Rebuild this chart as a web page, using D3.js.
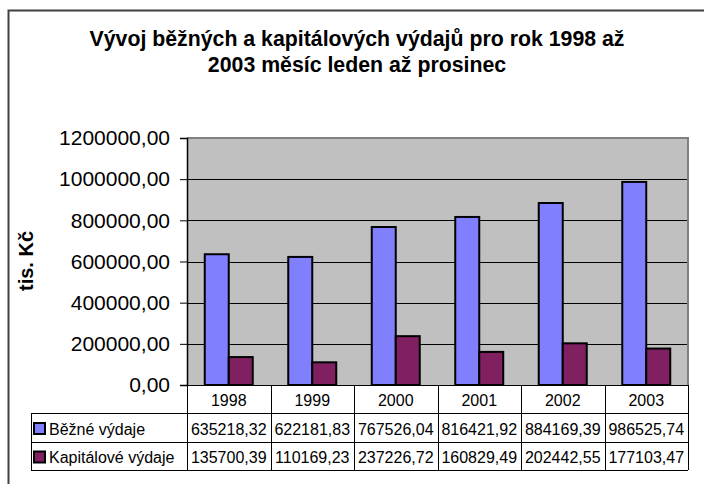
<!DOCTYPE html>
<html>
<head>
<meta charset="utf-8">
<script src="https://cdn.jsdelivr.net/npm/d3@7/dist/d3.min.js"></script>
<style>
  html, body { margin: 0; padding: 0; background: #fff; }
  svg { display: block; font-family: "Liberation Sans", Arial, sans-serif; }
</style>
</head>
<body>
<svg id="chart" width="704" height="484"></svg>
<script>
// ---- data ----
const years = ["1998", "1999", "2000", "2001", "2002", "2003"];
const seriesNames = ["Běžné výdaje", "Kapitálové výdaje"];
const bezneVydaje = [635218.32, 622181.83, 767526.04, 816421.92, 884169.39, 986525.74];
const kapitaloveVydaje = [135700.39, 110169.23, 237226.72, 160829.49, 202442.55, 177103.47];
const yTicks = [0, 200000, 400000, 600000, 800000, 1000000, 1200000];
const titleLines = ["Vývoj běžných a kapitálových výdajů pro rok 1998 až", "2003 měsíc leden až prosinec"];
const yAxisTitle = "tis. Kč";

const seriesValues = [bezneVydaje, kapitaloveVydaje];
const seriesColors = ["#8080FF", "#802060"];

// ---- layout ----
const svg = d3.select("#chart");
const plot = { left: 187, right: 688, top: 138, bottom: 385 };
const rowH = [385, 413, 442, 470];
const legendLeft = 31;

const locale = d3.formatLocale({ decimal: ",", thousands: " ", grouping: [3], currency: ["", " Kč"] });
const fmt = locale.format(".2f");

// outer border
svg.append("path")
  .attr("d", "M8.5,490 L8.5,10.5 L710,10.5")
  .attr("fill", "none").attr("stroke", "#404040").attr("stroke-width", 2);

// title
const title = svg.append("text")
  .attr("text-anchor", "middle")
  .attr("font-weight", "bold")
  .attr("font-size", 21.3)
  .attr("fill", "#000");
titleLines.forEach((t, i) => {
  title.append("tspan").attr("x", 357).attr("y", 45.5 + i * 26).text(t);
});

// scales
const x = d3.scaleBand().domain(years).range([plot.left, plot.right]).paddingInner(0).paddingOuter(0);
const xs = d3.scaleBand().domain(d3.range(seriesNames.length)).range([0, x.bandwidth()]).paddingInner(0).paddingOuter(0.74);
const y = d3.scaleLinear().domain([0, 1200000]).range([plot.bottom, plot.top]);

// plot background
svg.append("rect")
  .attr("x", plot.left).attr("y", plot.top)
  .attr("width", plot.right - plot.left).attr("height", plot.bottom - plot.top)
  .attr("fill", "#C0C0C0");

// gridlines
svg.append("g").selectAll("line").data(yTicks.filter(d => d > 0 && d < 1200000)).join("line")
  .attr("x1", plot.left).attr("x2", plot.right)
  .attr("y1", d => Math.round(y(d)) + 0.5).attr("y2", d => Math.round(y(d)) + 0.5)
  .attr("stroke", "#000").attr("stroke-width", 1);

// plot border (top & right gray)
svg.append("path")
  .attr("d", `M${plot.left},${plot.top} L${plot.right},${plot.top} L${plot.right},${plot.bottom}`)
  .attr("fill", "none").attr("stroke", "#808080").attr("stroke-width", 2);

// bars
const groups = svg.append("g").selectAll("g").data(years).join("g")
  .attr("transform", d => `translate(${x(d)},0)`);
groups.selectAll("rect").data((d, i) => seriesValues.map((s, k) => ({ k, v: s[i] }))).join("rect")
  .attr("x", d => xs(d.k))
  .attr("width", xs.bandwidth())
  .attr("y", d => y(d.v))
  .attr("height", d => y(0) - y(d.v))
  .attr("fill", d => seriesColors[d.k])
  .attr("stroke", "#000").attr("stroke-width", 2);

// y axis
const yAxis = d3.axisLeft(y).tickValues(yTicks).tickFormat(fmt).tickSize(7).tickPadding(10);
const ga = svg.append("g").attr("transform", `translate(${plot.left},0)`).call(yAxis);
ga.select(".domain").attr("stroke", "#000").attr("stroke-width", 1.5);
ga.selectAll(".tick line").attr("stroke", "#000");
ga.selectAll(".tick text")
  .attr("font-size", 21)
  .attr("font-family", "'Liberation Sans', Arial, sans-serif")
  .attr("fill", "#000");

// y axis title
svg.append("text")
  .attr("transform", `translate(33,261) rotate(-90)`)
  .attr("text-anchor", "middle")
  .attr("font-weight", "bold")
  .attr("font-size", 20)
  .attr("fill", "#000")
  .text(yAxisTitle);

// ---- data table ----
const table = svg.append("g").attr("stroke", "#000").attr("stroke-width", 1);
// horizontal lines
table.append("line").attr("x1", plot.left).attr("x2", plot.right).attr("y1", rowH[0] + 0.5).attr("y2", rowH[0] + 0.5);
[1, 2, 3].forEach(r => {
  table.append("line").attr("x1", legendLeft).attr("x2", plot.right)
    .attr("y1", rowH[r] + 0.5).attr("y2", rowH[r] + 0.5);
});
// vertical lines
const colEdges = years.map(d => x(d)).concat([plot.right]);
colEdges.forEach(cx => {
  table.append("line").attr("x1", Math.round(cx) + 0.5).attr("x2", Math.round(cx) + 0.5)
    .attr("y1", rowH[0]).attr("y2", rowH[3]);
});
table.append("line").attr("x1", legendLeft + 0.5).attr("x2", legendLeft + 0.5).attr("y1", rowH[1]).attr("y2", rowH[3]);

// year labels
svg.append("g").selectAll("text").data(years).join("text")
  .attr("x", d => x(d) + x.bandwidth() / 2)
  .attr("y", (rowH[0] + rowH[1]) / 2 + 6.5)
  .attr("text-anchor", "middle")
  .attr("font-size", 16)
  .text(d => d);

// value cells
seriesValues.forEach((s, k) => {
  svg.append("g").selectAll("text").data(s).join("text")
    .attr("x", (d, i) => x(years[i]) + x.bandwidth() / 2)
    .attr("y", (rowH[k + 1] + rowH[k + 2]) / 2 + 7)
    .attr("text-anchor", "middle")
    .attr("font-size", 16)
    .text(d => fmt(d));
});

// legend keys + names
seriesNames.forEach((name, k) => {
  const cy = (rowH[k + 1] + rowH[k + 2]) / 2 + 1;
  svg.append("rect")
    .attr("x", 34).attr("y", cy - 5.5)
    .attr("width", 11).attr("height", 11)
    .attr("fill", seriesColors[k]).attr("stroke", "#000").attr("stroke-width", 2);
  svg.append("text")
    .attr("x", 49).attr("y", cy + 6)
    .attr("font-size", 16)
    .text(name);
});
</script>
</body>
</html>
